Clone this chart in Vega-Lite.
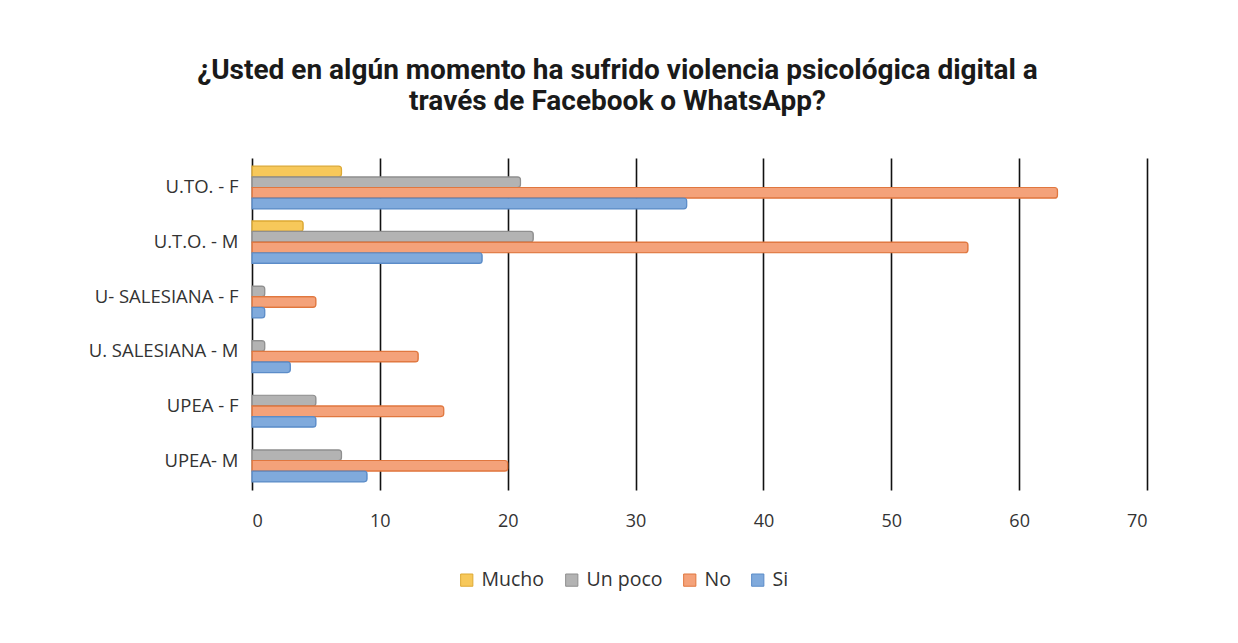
{
  "$schema": "https://vega.github.io/schema/vega-lite/v6.json",
  "autosize": {"type": "none"},
  "width": 895,
  "height": 332,
  "padding": {"left": 252, "top": 158, "right": 91, "bottom": 153},
  "background": "white",
  "title": {
    "text": ["¿Usted en algún momento ha sufrido violencia psicológica digital a", "través de Facebook o WhatsApp?"],
    "font": "Roboto",
    "fontSize": 28,
    "fontWeight": "bold",
    "color": "#1a1a1a",
    "lineHeight": 31,
    "anchor": "middle",
    "dx": -82,
    "offset": 42
  },
  "data": {
    "values": [
      {"grupo": "U.TO. - F", "serie": "Mucho", "valor": 7},
      {"grupo": "U.TO. - F", "serie": "Un poco", "valor": 21},
      {"grupo": "U.TO. - F", "serie": "No", "valor": 63},
      {"grupo": "U.TO. - F", "serie": "Si", "valor": 34},
      {"grupo": "U.T.O. - M", "serie": "Mucho", "valor": 4},
      {"grupo": "U.T.O. - M", "serie": "Un poco", "valor": 22},
      {"grupo": "U.T.O. - M", "serie": "No", "valor": 56},
      {"grupo": "U.T.O. - M", "serie": "Si", "valor": 18},
      {"grupo": "U- SALESIANA - F", "serie": "Mucho", "valor": 0},
      {"grupo": "U- SALESIANA - F", "serie": "Un poco", "valor": 1},
      {"grupo": "U- SALESIANA - F", "serie": "No", "valor": 5},
      {"grupo": "U- SALESIANA - F", "serie": "Si", "valor": 1},
      {"grupo": "U. SALESIANA - M", "serie": "Mucho", "valor": 0},
      {"grupo": "U. SALESIANA - M", "serie": "Un poco", "valor": 1},
      {"grupo": "U. SALESIANA - M", "serie": "No", "valor": 13},
      {"grupo": "U. SALESIANA - M", "serie": "Si", "valor": 3},
      {"grupo": "UPEA - F", "serie": "Mucho", "valor": 0},
      {"grupo": "UPEA - F", "serie": "Un poco", "valor": 5},
      {"grupo": "UPEA - F", "serie": "No", "valor": 15},
      {"grupo": "UPEA - F", "serie": "Si", "valor": 5},
      {"grupo": "UPEA- M", "serie": "Mucho", "valor": 0},
      {"grupo": "UPEA- M", "serie": "Un poco", "valor": 7},
      {"grupo": "UPEA- M", "serie": "No", "valor": 20},
      {"grupo": "UPEA- M", "serie": "Si", "valor": 9}
    ]
  },
  "transform": [{"filter": "datum.valor > 0"}],
  "mark": {"type": "bar", "cornerRadiusEnd": 3, "strokeWidth": 1.2},
  "encoding": {
    "y": {
      "field": "grupo",
      "type": "nominal",
      "sort": ["U.TO. - F", "U.T.O. - M", "U- SALESIANA - F", "U. SALESIANA - M", "UPEA - F", "UPEA- M"],
      "scale": {"paddingInner": 0.22, "paddingOuter": 0.15},
      "axis": {
        "title": null,
        "ticks": false,
        "domain": false,
        "labelFont": "Open Sans",
        "labelFontSize": 18.5,
        "labelColor": "#333333",
        "labelPadding": 14
      }
    },
    "yOffset": {
      "field": "serie",
      "type": "nominal",
      "sort": ["Mucho", "Un poco", "No", "Si"],
      "scale": {"domain": ["Mucho", "Un poco", "No", "Si"], "paddingInner": 0, "paddingOuter": 0}
    },
    "x": {
      "field": "valor",
      "type": "quantitative",
      "scale": {"domain": [0, 70], "nice": false},
      "axis": {
        "title": null,
        "values": [0, 10, 20, 30, 40, 50, 60, 70],
        "ticks": false,
        "domain": false,
        "grid": true,
        "gridColor": "#111111",
        "gridWidth": 1.6,
        "labelFont": "Open Sans",
        "labelFontSize": 18,
        "labelColor": "#333333",
        "labelPadding": 22
      }
    },
    "color": {
      "field": "serie",
      "type": "nominal",
      "scale": {
        "domain": ["Mucho", "Un poco", "No", "Si"],
        "range": ["#F7C85A", "#B3B3B3", "#F4A27A", "#80AADC"]
      },
      "legend": {
        "title": null,
        "orient": "none",
        "direction": "horizontal",
        "legendX": 205,
        "legendY": 412,
        "symbolType": "square",
        "symbolSize": 150,
        "symbolStrokeWidth": 1,
        "labelFont": "Open Sans",
        "labelFontSize": 19.5,
        "labelColor": "#333333",
        "columnPadding": 17,
        "labelOffset": 5
      }
    },
    "stroke": {
      "field": "serie",
      "type": "nominal",
      "scale": {
        "domain": ["Mucho", "Un poco", "No", "Si"],
        "range": ["#DDA935", "#8F8F8F", "#E0773F", "#5B8CC8"]
      },
      "legend": null
    }
  },
  "config": {"view": {"stroke": null}}
}
